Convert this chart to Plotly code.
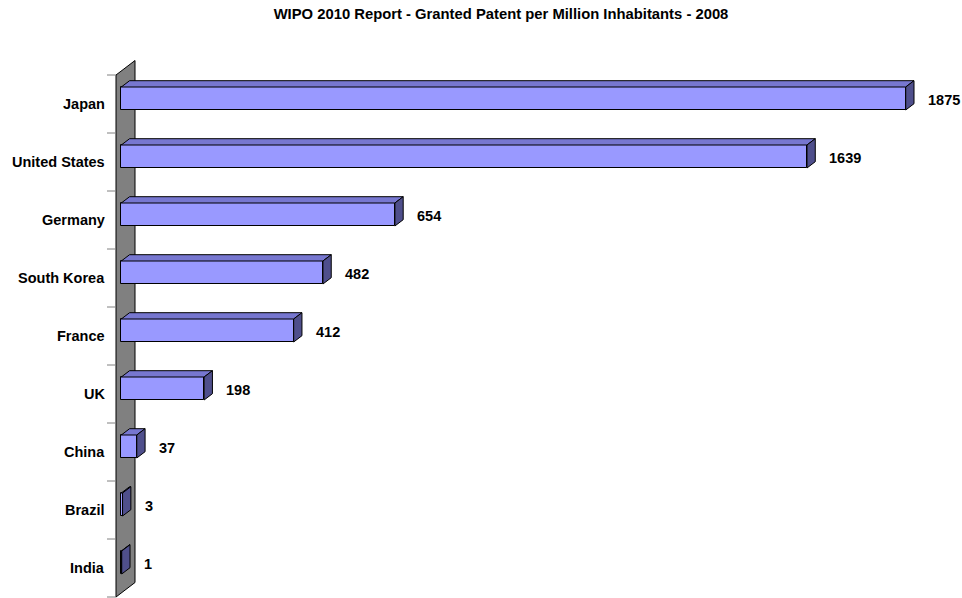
import plotly.graph_objects as go

# ---- data ----
categories = ["Japan", "United States", "Germany", "South Korea", "France",
              "UK", "China", "Brazil", "India"]
values = [1875, 1639, 654, 482, 412, 198, 37, 3, 1]
title_text = "WIPO 2010 Report - Granted Patent per Million Inhabitants - 2008"

# ---- geometry (pixels) ----
W, H = 962, 598
X0 = 121.3            # pixel of value 0 on the bar front plane
K = 0.41835           # pixels per unit
Y0 = 104.0            # pixel of first category centre (front plane)
BAND = 58.0           # pixels per category
WALL_X = 116.0        # wall front edge
WALL_D = (19.0, -14.5)
BAR_D = (8.3, -6.3)
BAR_SHIFT = -5.5      # bar front centre vs category centre
BAR_HALF = 11.5

FRONT = "#9999FF"
TOP = "#7777D0"
SIDE = "#4F4F8C"
WALL = "#808080"
FONT = "Liberation Sans, Arial, sans-serif"


def dx(px):
    return px / K


def dy(px):
    return px / BAND


def xd(px):
    return (px - X0) / K


def yd(px):
    return (px - Y0) / BAND


n = len(categories)
fig = go.Figure()

# wall (shape below traces)
wl = xd(WALL_X)
wt, wb = -0.5, n - 0.5
wdx, wdy = dx(WALL_D[0]), dy(WALL_D[1])
wall_path = (f"M {wl},{wt} L {wl},{wb} L {wl + wdx},{wb + wdy} "
             f"L {wl + wdx},{wt + wdy} Z")
shapes = [dict(type="path", path=wall_path, xref="x", yref="y",
               fillcolor=WALL, line=dict(color="black", width=1), layer="below")]
# ticks
for j in range(n + 1):
    yj = j - 0.5
    shapes.append(dict(type="line", xref="x", yref="y", x0=xd(107), x1=wl,
                       y0=yj, y1=yj, line=dict(color="#808080", width=1),
                       layer="below"))

# front faces
ycent = [i + dy(BAR_SHIFT) for i in range(n)]
fig.add_trace(go.Bar(
    x=values, y=ycent, orientation="h", base=0,
    width=2 * dy(BAR_HALF),
    marker=dict(color=FRONT, line=dict(color="black", width=1)),
    hoverinfo="skip", showlegend=False))

bdx, bdy = dx(BAR_D[0]), dy(BAR_D[1])
for i, v in enumerate(values):
    yt = ycent[i] - dy(BAR_HALF)
    yb = ycent[i] + dy(BAR_HALF)
    # top face
    fig.add_trace(go.Scatter(
        x=[0, v, v + bdx, bdx, 0], y=[yt, yt, yt + bdy, yt + bdy, yt],
        mode="lines", fill="toself", fillcolor=TOP,
        line=dict(color="black", width=1), hoverinfo="skip", showlegend=False))
    # side face
    fig.add_trace(go.Scatter(
        x=[v, v, v + bdx, v + bdx, v], y=[yt, yb, yb + bdy, yt + bdy, yt],
        mode="lines", fill="toself", fillcolor=SIDE,
        line=dict(color="black", width=1), hoverinfo="skip", showlegend=False))

annotations = []
for i, (c, v) in enumerate(zip(categories, values)):
    annotations.append(dict(
        x=106.5 / W, xref="paper", y=i, yref="y", text=f"<b>{c}</b>",
        xanchor="right", yanchor="middle", showarrow=False,
        font=dict(family=FONT, size=14.5, color="black")))
    annotations.append(dict(
        x=v + dx(20), xref="x", y=ycent[i] + dy(1), yref="y", text=f"<b>{v}</b>",
        xanchor="left", yanchor="middle", showarrow=False,
        font=dict(family=FONT, size=14.5, color="black")))

fig.update_layout(
    width=W, height=H,
    margin=dict(l=0, r=0, t=0, b=0),
    paper_bgcolor="white", plot_bgcolor="white",
    title=dict(text=f"<b>{title_text}</b>", x=501 / W, xanchor="center",
               y=1 - 14 / H, yanchor="middle", yref="container",
               font=dict(family=FONT, size=14.8, color="black")),
    xaxis=dict(range=[xd(0), xd(W)], visible=False, fixedrange=True),
    yaxis=dict(range=[yd(H), yd(0)], visible=False, fixedrange=True),
    shapes=shapes, annotations=annotations, showlegend=False,
    bargap=0,
)

fig.write_html("out.html")
